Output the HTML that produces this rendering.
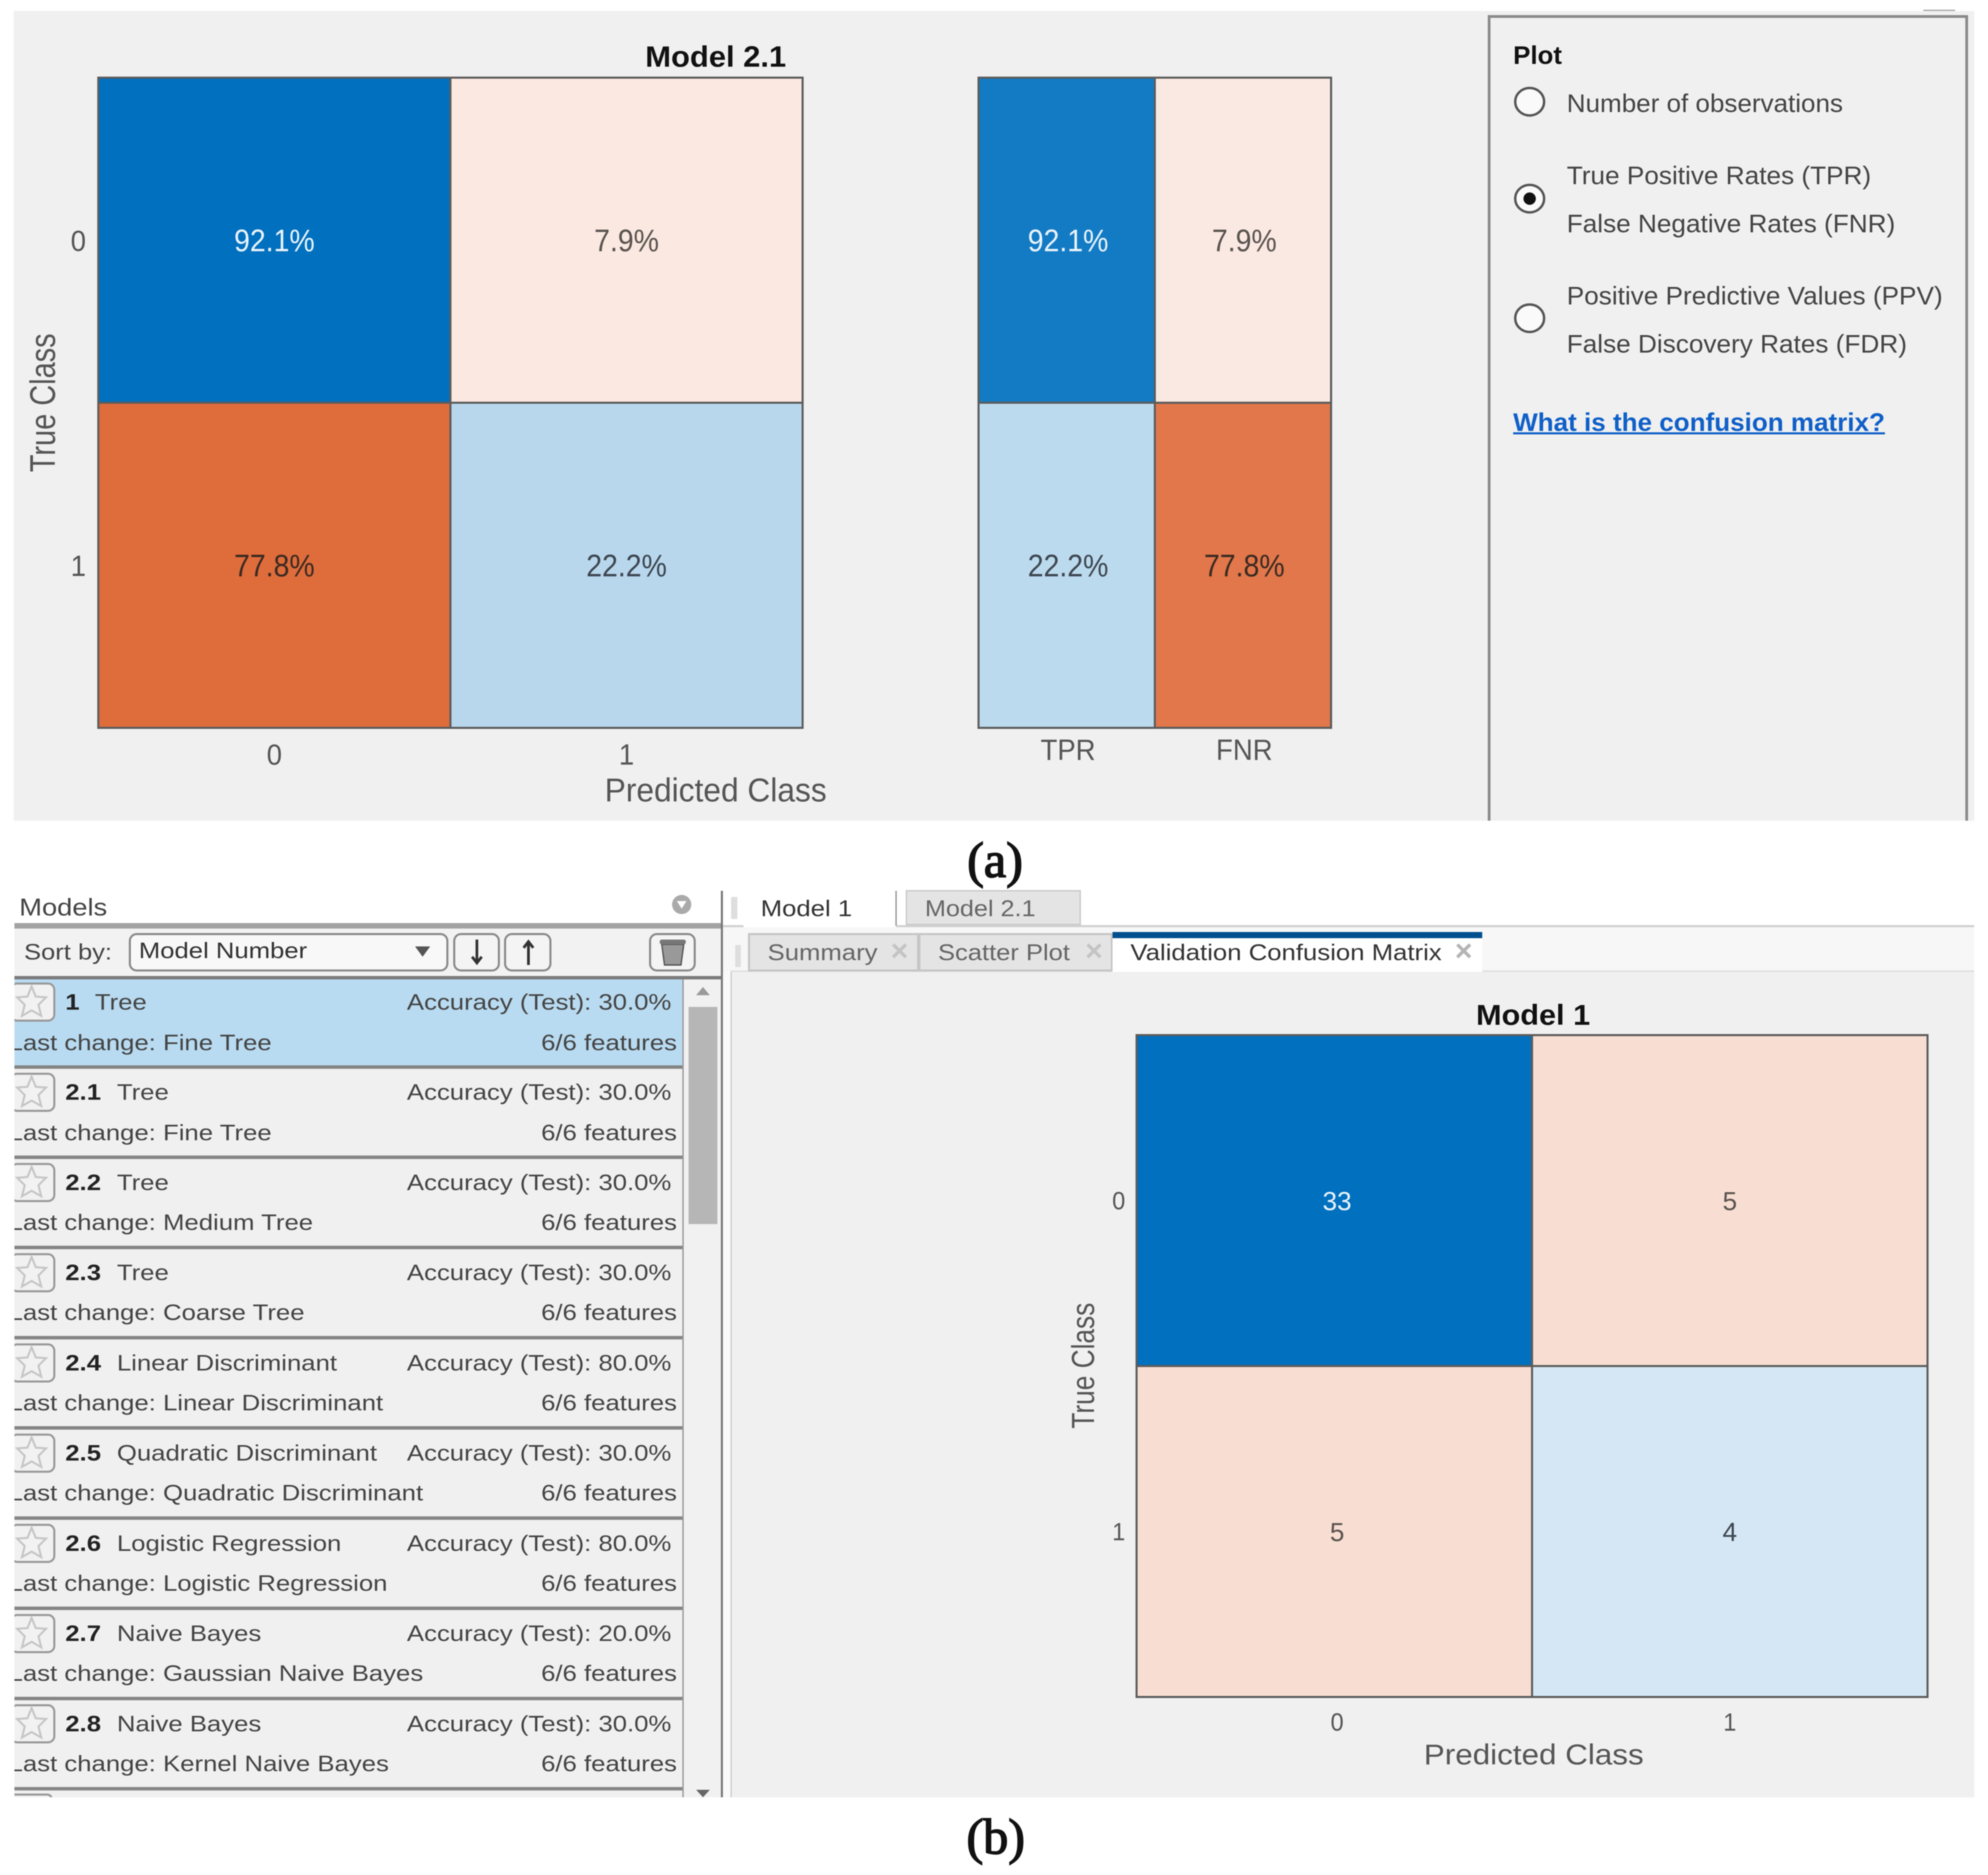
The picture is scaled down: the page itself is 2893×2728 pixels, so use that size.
<!DOCTYPE html>
<html lang="en">
<head>
<meta charset="utf-8">
<title>Confusion matrices</title>
<style>
html,body{margin:0;padding:0;background:#fff}
svg{display:block;filter:blur(.7px);font-family:"Liberation Sans",sans-serif}
.t{fill:#444;font-size:32px}
.b{font-weight:bold;fill:#222}
.p{font-size:37px;fill:#444}
.tab{font-size:33px;fill:#444}
</style>
</head>
<body>
<svg id="root" xmlns="http://www.w3.org/2000/svg" width="2893" height="2728" viewBox="0 0 2893 2728">
<rect width="2893" height="2728" fill="#fff"/>

<!-- Panel (a) -->
<rect x="20" y="16" width="2853" height="1178" fill="#f0f0f0"/>
<text x="939" y="97" font-size="43" font-weight="bold" fill="#111" textLength="205" lengthAdjust="spacingAndGlyphs">Model 2.1</text>
<g id="chartA"></g>
<g id="chartRates"></g>
<text transform="translate(80,586) rotate(-90) scale(.81,1)" text-anchor="middle" font-size="52" fill="#555">True Class</text>
<text x="880" y="1166" font-size="48" fill="#555" textLength="323" lengthAdjust="spacingAndGlyphs">Predicted Class</text>

<!-- Plot options -->
<path d="M2167 1194V24H2862V1194" fill="none" stroke="#8a8a8a" stroke-width="4"/>
<rect x="2799" y="14" width="46" height="2" fill="#aaa"/>
<text x="2202" y="93" font-size="37" font-weight="bold" fill="#111" textLength="71" lengthAdjust="spacingAndGlyphs">Plot</text>
<ellipse cx="2226" cy="148" rx="21" ry="20" fill="#fafafa" stroke="#555" stroke-width="3.5"/>
<text class="p" x="2280" y="163" textLength="402" lengthAdjust="spacingAndGlyphs">Number of observations</text>
<ellipse cx="2226" cy="289" rx="21" ry="20" fill="#fafafa" stroke="#555" stroke-width="3.5"/>
<ellipse cx="2226" cy="289" rx="9" ry="9" fill="#111"/>
<text class="p" x="2280" y="268" textLength="443" lengthAdjust="spacingAndGlyphs">True Positive Rates (TPR)</text>
<text class="p" x="2280" y="338" textLength="478" lengthAdjust="spacingAndGlyphs">False Negative Rates (FNR)</text>
<ellipse cx="2226" cy="463" rx="21" ry="20" fill="#fafafa" stroke="#555" stroke-width="3.5"/>
<text class="p" x="2280" y="443" textLength="547" lengthAdjust="spacingAndGlyphs">Positive Predictive Values (PPV)</text>
<text class="p" x="2280" y="513" textLength="495" lengthAdjust="spacingAndGlyphs">False Discovery Rates (FDR)</text>
<text x="2202" y="627" font-size="37" font-weight="bold" fill="#0f5fc8" textLength="541" lengthAdjust="spacingAndGlyphs">What is the confusion matrix?</text>
<rect x="2202" y="629" width="541" height="3" fill="#0f5fc8"/>

<text x="1448" y="1276" text-anchor="middle" font-family="Liberation Serif" font-size="73" stroke="#111" stroke-width="2" fill="#111">(a)</text>

<!-- Right pane -->
<rect x="1052" y="1296" width="1821" height="51" fill="#fff"/>
<rect x="1052" y="1347" width="1821" height="66" fill="#f7f7f7"/>
<rect x="1064" y="1413" width="1809" height="1202" fill="#f0f0f0"/>
<rect x="1052" y="1413" width="12" height="1202" fill="#fafafa"/>
<rect x="1063" y="1413" width="2" height="1202" fill="#cfcfcf"/>
<rect x="1052" y="1346" width="1821" height="3" fill="#d0d0d0"/>
<rect x="1064" y="1412" width="1809" height="2" fill="#dcdcdc"/>
<rect x="1064" y="1305" width="9" height="32" fill="#dedede"/>
<rect x="1070" y="1375" width="8" height="32" fill="#dedede"/>
<rect x="1082" y="1296" width="222" height="53" fill="#fff"/>
<rect x="1303" y="1296" width="2" height="51" fill="#999"/>
<text class="tab" x="1107" y="1333" textLength="133" lengthAdjust="spacingAndGlyphs" style="fill:#333">Model 1</text>
<rect x="1319" y="1296" width="253" height="49" fill="#e4e4e4" stroke="#c9c9c9" stroke-width="2"/>
<text class="tab" x="1346" y="1333" textLength="161" lengthAdjust="spacingAndGlyphs" style="fill:#666">Model 2.1</text>
<rect x="1090" y="1359" width="246" height="53" fill="#e4e4e4" stroke="#c6c6c6" stroke-width="3"/>
<text class="tab" x="1117" y="1397" textLength="160" lengthAdjust="spacingAndGlyphs" style="fill:#666">Summary</text>
<text x="1309" y="1398" text-anchor="middle" font-size="44" font-weight="bold" fill="#c4c4c4">×</text>
<rect x="1338" y="1359" width="280" height="53" fill="#e4e4e4" stroke="#c6c6c6" stroke-width="3"/>
<text class="tab" x="1365" y="1397" textLength="192" lengthAdjust="spacingAndGlyphs" style="fill:#666">Scatter Plot</text>
<text x="1592" y="1398" text-anchor="middle" font-size="44" font-weight="bold" fill="#c4c4c4">×</text>
<rect x="1619" y="1362" width="538" height="52" fill="#fff"/>
<rect x="1619" y="1356" width="538" height="9" fill="#004f8f"/>
<text class="tab" x="1645" y="1397" textLength="453" lengthAdjust="spacingAndGlyphs" style="fill:#333">Validation Confusion Matrix</text>
<text x="2130" y="1398" text-anchor="middle" font-size="44" font-weight="bold" fill="#b4b4b4">×</text>

<text x="2148" y="1491" font-size="42" font-weight="bold" fill="#111" textLength="166" lengthAdjust="spacingAndGlyphs">Model 1</text>
<g id="chartB"></g>
<text transform="translate(1592,1987) rotate(-90) scale(.83,1)" text-anchor="middle" font-size="46" fill="#555">True Class</text>
<text x="2072" y="2567" font-size="42" fill="#555" textLength="320" lengthAdjust="spacingAndGlyphs">Predicted Class</text>

<text x="1449" y="2697" text-anchor="middle" font-family="Liberation Serif" font-size="73" stroke="#111" stroke-width="2" fill="#111">(b)</text>

<!-- Panel (b) models list -->
<rect x="21" y="1296" width="1030" height="47" fill="#fff"/>
<text x="28" y="1332" font-size="35" fill="#444" textLength="128" lengthAdjust="spacingAndGlyphs">Models</text>
<circle cx="992" cy="1316" r="14" fill="#aaa"/>
<path d="M985 1311h14l-7 11z" fill="#fff"/>
<rect x="21" y="1343" width="1030" height="8" fill="#a2a2a2"/>
<rect x="21" y="1351" width="1030" height="70" fill="#f2f2f2"/>
<rect x="21" y="1420" width="1030" height="5" fill="#7c7c7c"/>
<text x="35" y="1396" font-size="32" fill="#444" textLength="128" lengthAdjust="spacingAndGlyphs">Sort by:</text>
<rect x="189" y="1359" width="462" height="53" rx="10" fill="#f8f8f8" stroke="#8a8a8a" stroke-width="3"/>
<text x="202" y="1394" font-size="32" fill="#333" textLength="245" lengthAdjust="spacingAndGlyphs">Model Number</text>
<path d="M604 1377h22l-11 15z" fill="#555"/>
<rect x="661" y="1359" width="65" height="53" rx="10" fill="#f4f4f4" stroke="#8a8a8a" stroke-width="3"/>
<path d="M694 1367v32m-7-7l7 9 7-9" fill="none" stroke="#333" stroke-width="4"/>
<rect x="735" y="1359" width="66" height="53" rx="10" fill="#f4f4f4" stroke="#8a8a8a" stroke-width="3"/>
<path d="M769 1404v-32m-7 7l7-9 7 9" fill="none" stroke="#333" stroke-width="4"/>
<rect x="946" y="1359" width="65" height="53" rx="10" fill="#f4f4f4" stroke="#8a8a8a" stroke-width="3"/>
<path d="M963 1374h32l-4 30h-24z" fill="#999" stroke="#555" stroke-width="2"/>
<rect x="960" y="1367" width="38" height="7" rx="3" fill="#777"/>

<g>
<rect x="21" y="1425" width="973" height="1190" fill="#f0f0f0"/>
<rect x="21" y="1425" width="973" height="125" fill="#b9dbf1"/>

<g>
<rect x="16" y="1431" width="63" height="54" rx="9" fill="#f1f1f1" stroke="#999" stroke-width="3"/>
<polygon points="46,1435 52,1450 67,1451 56,1462 60,1478 46,1470 32,1478 36,1462 25,1451 40,1450" fill="#f2f2f2" stroke="#c6c6c6" stroke-width="3"/>
<g transform="scale(1.17,1)">
<text class="t b" x="81.2" y="1469">1</text>
<text class="t" x="118" y="1469">Tree</text>
<text class="t" x="835" y="1469" text-anchor="end">Accuracy (Test): 30.0%</text>
<text class="t" x="10.7" y="1528">Last change: Fine Tree</text>
<text class="t" x="842" y="1528" text-anchor="end">6/6 features</text>
</g>
<rect x="21" y="1550" width="973" height="5" fill="#858585"/>
</g>

<g transform="translate(0,131.25)">
<rect x="16" y="1431" width="63" height="54" rx="9" fill="#f1f1f1" stroke="#999" stroke-width="3"/>
<polygon points="46,1435 52,1450 67,1451 56,1462 60,1478 46,1470 32,1478 36,1462 25,1451 40,1450" fill="#f2f2f2" stroke="#c6c6c6" stroke-width="3"/>
<g transform="scale(1.17,1)">
<text class="t b" x="81.2" y="1469">2.1</text>
<text class="t" x="145.4" y="1469">Tree</text>
<text class="t" x="835" y="1469" text-anchor="end">Accuracy (Test): 30.0%</text>
<text class="t" x="10.7" y="1528">Last change: Fine Tree</text>
<text class="t" x="842" y="1528" text-anchor="end">6/6 features</text>
</g>
<rect x="21" y="1550" width="973" height="5" fill="#858585"/>
</g>

<g transform="translate(0,262.5)">
<rect x="16" y="1431" width="63" height="54" rx="9" fill="#f1f1f1" stroke="#999" stroke-width="3"/>
<polygon points="46,1435 52,1450 67,1451 56,1462 60,1478 46,1470 32,1478 36,1462 25,1451 40,1450" fill="#f2f2f2" stroke="#c6c6c6" stroke-width="3"/>
<g transform="scale(1.17,1)">
<text class="t b" x="81.2" y="1469">2.2</text>
<text class="t" x="145.4" y="1469">Tree</text>
<text class="t" x="835" y="1469" text-anchor="end">Accuracy (Test): 30.0%</text>
<text class="t" x="10.7" y="1527">Last change: Medium Tree</text>
<text class="t" x="842" y="1527" text-anchor="end">6/6 features</text>
</g>
<rect x="21" y="1550" width="973" height="5" fill="#858585"/>
</g>

<g transform="translate(0,393.75)">
<rect x="16" y="1431" width="63" height="54" rx="9" fill="#f1f1f1" stroke="#999" stroke-width="3"/>
<polygon points="46,1435 52,1450 67,1451 56,1462 60,1478 46,1470 32,1478 36,1462 25,1451 40,1450" fill="#f2f2f2" stroke="#c6c6c6" stroke-width="3"/>
<g transform="scale(1.17,1)">
<text class="t b" x="81.2" y="1469">2.3</text>
<text class="t" x="145.4" y="1469">Tree</text>
<text class="t" x="835" y="1469" text-anchor="end">Accuracy (Test): 30.0%</text>
<text class="t" x="10.7" y="1527">Last change: Coarse Tree</text>
<text class="t" x="842" y="1527" text-anchor="end">6/6 features</text>
</g>
<rect x="21" y="1550" width="973" height="5" fill="#858585"/>
</g>

<g transform="translate(0,525)">
<rect x="16" y="1431" width="63" height="54" rx="9" fill="#f1f1f1" stroke="#999" stroke-width="3"/>
<polygon points="46,1435 52,1450 67,1451 56,1462 60,1478 46,1470 32,1478 36,1462 25,1451 40,1450" fill="#f2f2f2" stroke="#c6c6c6" stroke-width="3"/>
<g transform="scale(1.17,1)">
<text class="t b" x="81.2" y="1469">2.4</text>
<text class="t" x="145.4" y="1469">Linear Discriminant</text>
<text class="t" x="835" y="1469" text-anchor="end">Accuracy (Test): 80.0%</text>
<text class="t" x="10.7" y="1527">Last change: Linear Discriminant</text>
<text class="t" x="842" y="1527" text-anchor="end">6/6 features</text>
</g>
<rect x="21" y="1550" width="973" height="5" fill="#858585"/>
</g>

<g transform="translate(0,656.25)">
<rect x="16" y="1431" width="63" height="54" rx="9" fill="#f1f1f1" stroke="#999" stroke-width="3"/>
<polygon points="46,1435 52,1450 67,1451 56,1462 60,1478 46,1470 32,1478 36,1462 25,1451 40,1450" fill="#f2f2f2" stroke="#c6c6c6" stroke-width="3"/>
<g transform="scale(1.17,1)">
<text class="t b" x="81.2" y="1469">2.5</text>
<text class="t" x="145.4" y="1469">Quadratic Discriminant</text>
<text class="t" x="835" y="1469" text-anchor="end">Accuracy (Test): 30.0%</text>
<text class="t" x="10.7" y="1527">Last change: Quadratic Discriminant</text>
<text class="t" x="842" y="1527" text-anchor="end">6/6 features</text>
</g>
<rect x="21" y="1550" width="973" height="5" fill="#858585"/>
</g>

<g transform="translate(0,787.5)">
<rect x="16" y="1431" width="63" height="54" rx="9" fill="#f1f1f1" stroke="#999" stroke-width="3"/>
<polygon points="46,1435 52,1450 67,1451 56,1462 60,1478 46,1470 32,1478 36,1462 25,1451 40,1450" fill="#f2f2f2" stroke="#c6c6c6" stroke-width="3"/>
<g transform="scale(1.17,1)">
<text class="t b" x="81.2" y="1469">2.6</text>
<text class="t" x="145.4" y="1469">Logistic Regression</text>
<text class="t" x="835" y="1469" text-anchor="end">Accuracy (Test): 80.0%</text>
<text class="t" x="10.7" y="1527">Last change: Logistic Regression</text>
<text class="t" x="842" y="1527" text-anchor="end">6/6 features</text>
</g>
<rect x="21" y="1550" width="973" height="5" fill="#858585"/>
</g>

<g transform="translate(0,918.75)">
<rect x="16" y="1431" width="63" height="54" rx="9" fill="#f1f1f1" stroke="#999" stroke-width="3"/>
<polygon points="46,1435 52,1450 67,1451 56,1462 60,1478 46,1470 32,1478 36,1462 25,1451 40,1450" fill="#f2f2f2" stroke="#c6c6c6" stroke-width="3"/>
<g transform="scale(1.17,1)">
<text class="t b" x="81.2" y="1469">2.7</text>
<text class="t" x="145.4" y="1469">Naive Bayes</text>
<text class="t" x="835" y="1469" text-anchor="end">Accuracy (Test): 20.0%</text>
<text class="t" x="10.7" y="1527">Last change: Gaussian Naive Bayes</text>
<text class="t" x="842" y="1527" text-anchor="end">6/6 features</text>
</g>
<rect x="21" y="1550" width="973" height="5" fill="#858585"/>
</g>

<g transform="translate(0,1050)">
<rect x="16" y="1431" width="63" height="54" rx="9" fill="#f1f1f1" stroke="#999" stroke-width="3"/>
<polygon points="46,1435 52,1450 67,1451 56,1462 60,1478 46,1470 32,1478 36,1462 25,1451 40,1450" fill="#f2f2f2" stroke="#c6c6c6" stroke-width="3"/>
<g transform="scale(1.17,1)">
<text class="t b" x="81.2" y="1469">2.8</text>
<text class="t" x="145.4" y="1469">Naive Bayes</text>
<text class="t" x="835" y="1469" text-anchor="end">Accuracy (Test): 30.0%</text>
<text class="t" x="10.7" y="1527">Last change: Kernel Naive Bayes</text>
<text class="t" x="842" y="1527" text-anchor="end">6/6 features</text>
</g>
<rect x="21" y="1550" width="973" height="5" fill="#858585"/>
</g>
<rect x="16" y="2611" width="59" height="12" rx="6" fill="#f1f1f1" stroke="#999" stroke-width="3"/>
</g>

<!-- covers that trim the list edges -->
<rect x="0" y="1296" width="21" height="1330" fill="#fff"/>
<rect x="0" y="2615" width="1052" height="20" fill="#fff"/>

<!-- scrollbar -->
<rect x="994" y="1425" width="56" height="1190" fill="#f1f1f1"/>
<rect x="993" y="1425" width="2" height="1190" fill="#9a9a9a"/>
<rect x="1002" y="1465" width="42" height="316" fill="#b6b6b6"/>
<path d="M1013 1448l10-12 10 12z" fill="#9a9a9a"/>
<path d="M1013 2604h20l-10 11z" fill="#666"/>
<rect x="1049" y="1296" width="3" height="1319" fill="#777"/>

<script>
// Chart data
const classLabels = ['0', '1'];
const rateLabels = ['TPR', 'FNR'];
const model21Rates = [[92.1, 7.9], [77.8, 22.2]];
const model21RateColumns = [[92.1, 7.9], [22.2, 77.8]];
const model1Counts = [[33, 5], [5, 4]];

const SVG_NS = 'http://www.w3.org/2000/svg';
const BLUE = [0, 112, 191];
const ORANGE = [217, 83, 25];

function mix(base, alpha) {
  return 'rgb(' + base.map(function (c) { return Math.round(255 + (c - 255) * alpha); }).join(',') + ')';
}
function bandAxis(start, end, count) {
  const step = (end - start) / count;
  return {
    start: function (i) { return start + i * step; },
    center: function (i) { return start + (i + 0.5) * step; },
    step: step
  };
}
function label(parent, cx, cy, str, size, sx, fill, name) {
  const el = document.createElementNS(SVG_NS, 'text');
  el.setAttribute('transform', 'translate(' + cx + ',' + (cy + size * 0.36) + ') scale(' + sx + ',1)');
  el.setAttribute('text-anchor', 'middle');
  el.setAttribute('font-size', size);
  el.setAttribute('fill', fill);
  
  
  el.textContent = str;
  parent.appendChild(el);
}
function drawMatrix(opts) {
  const root = document.getElementById(opts.id);
  const x = bandAxis(opts.left, opts.right, opts.xLabels.length);
  const y = bandAxis(opts.top, opts.bottom, opts.values.length);
  const labelX = function (c) { return x.center(c) + (c === 0 ? opts.firstColumnNudge : opts.otherColumnNudge); };
  const flat = opts.values.reduce(function (a, r) { return a.concat(r); }, []);
  const maxValue = opts.maxValue || Math.max.apply(null, flat);
  opts.values.forEach(function (row, r) {
    row.forEach(function (value, c) {
      const correct = opts.isCorrect(r, c);
      const alpha = 0.05 + 0.95 * value / maxValue;
      const cell = document.createElementNS(SVG_NS, 'rect');
      cell.setAttribute('x', x.start(c));
      cell.setAttribute('y', y.start(r));
      cell.setAttribute('width', x.step);
      cell.setAttribute('height', y.step);
      cell.setAttribute('fill', mix(correct ? BLUE : ORANGE, alpha));
      cell.setAttribute('stroke', '#5c5c5c');
      cell.setAttribute('stroke-width', '3');
      
      
      root.appendChild(cell);
    });
  });
  opts.values.forEach(function (row, r) {
    row.forEach(function (value, c) {
      const correct = opts.isCorrect(r, c);
      const strong = value / maxValue > 0.6;
      const fill = strong ? (correct ? '#eaf3fb' : '#3a2a22') : (correct ? '#3d4650' : '#5a5350');
      label(root, labelX(c), y.center(r), value + opts.suffix, opts.valueSize, opts.valueScale, fill, 'cell-value');
    });
  });
  opts.xLabels.forEach(function (text, c) {
    label(root, labelX(c), opts.xTickY, text, opts.tickSize, opts.tickScale, '#555', 'x-tick-label');
  });
  (opts.yLabels || []).forEach(function (text, r) {
    label(root, opts.yTickX, y.center(r), text, opts.tickSize, opts.tickScale, '#555', 'y-tick-label');
  });
}

drawMatrix({
  id: 'chartA', left: 143, right: 1168, top: 113, bottom: 1059,
  xLabels: classLabels, yLabels: classLabels, values: model21Rates,
  isCorrect: function (r, c) { return r === c; },
  suffix: '%', valueSize: 45, valueScale: 0.92, tickSize: 43, tickScale: 0.93,
  xTickY: 1097, yTickX: 114, firstColumnNudge: 0, otherColumnNudge: 0
});
drawMatrix({
  id: 'chartRates', left: 1424, right: 1937, top: 113, bottom: 1059, maxValue: 100,
  xLabels: rateLabels, values: model21RateColumns,
  isCorrect: function (r, c) { return c === 0; },
  suffix: '%', valueSize: 45, valueScale: 0.92, tickSize: 43, tickScale: 0.93,
  xTickY: 1090, firstColumnNudge: 2, otherColumnNudge: 2
});
drawMatrix({
  id: 'chartB', left: 1654, right: 2805, top: 1506, bottom: 2469,
  xLabels: classLabels, yLabels: classLabels, values: model1Counts,
  isCorrect: function (r, c) { return r === c; },
  suffix: '', valueSize: 38, valueScale: 1, tickSize: 36, tickScale: 0.95,
  xTickY: 2505, yTickX: 1628, firstColumnNudge: 4, otherColumnNudge: 0
});
</script>
</svg>
</body>
</html>
